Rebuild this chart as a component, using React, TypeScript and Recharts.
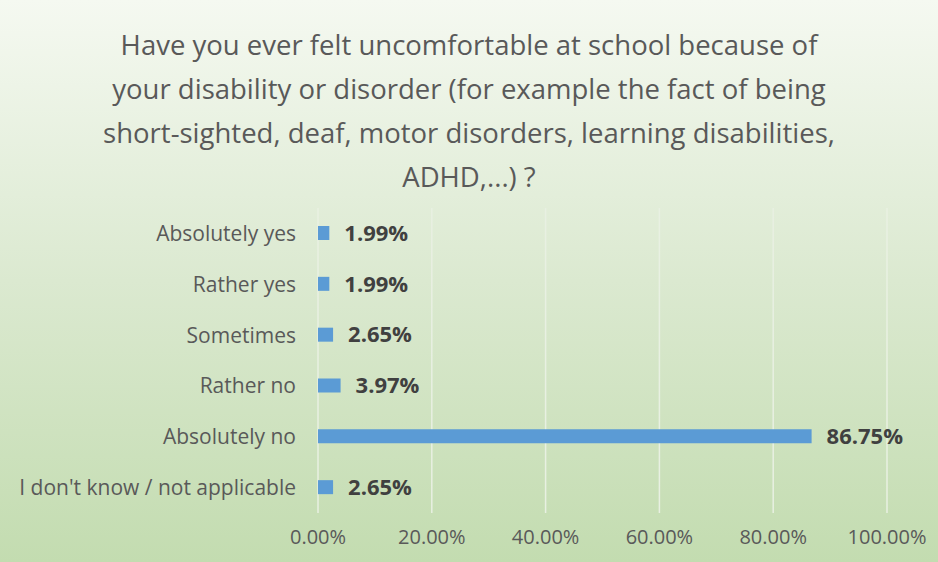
import { BarChart, Bar, XAxis, YAxis, CartesianGrid, LabelList } from 'recharts';

const categories = [
  'Absolutely yes',
  'Rather yes',
  'Sometimes',
  'Rather no',
  'Absolutely no',
  "I don't know / not applicable",
];
const shares = [1.99, 1.99, 2.65, 3.97, 86.75, 2.65];
const xTicks = [0, 20, 40, 60, 80, 100];
const titleLines = [
  'Have you ever felt uncomfortable at school because of',
  'your disability or disorder (for example the fact of being',
  'short-sighted, deaf, motor disorders, learning disabilities,',
  'ADHD,...) ?',
];

const data = categories.map((name, i) => ({ name, value: shares[i] }));

const FONT = '"Open Sans", sans-serif';
const pct = (v: number) => `${Number(v).toFixed(2)}%`;

const App = () => {
  return (
    <div
      style={{
        position: 'absolute',
        left: 0,
        top: 0,
        width: 938,
        height: 562,
        background: 'linear-gradient(to bottom, #f5f9f1 0%, #dbe9d0 50%, #c3dcb0 100%)',
        fontFamily: FONT,
      }}
    >
      <div
        style={{
          position: 'absolute',
          top: 23,
          left: 0,
          width: 938,
          textAlign: 'center',
          color: '#595959',
          fontSize: 27.5,
          lineHeight: '44px',
        }}
      >
        {titleLines.map((l) => (
          <div key={l}>{l}</div>
        ))}
      </div>
      <div style={{ position: 'absolute', left: 0, top: 0 }}>
        <BarChart
          width={938}
          height={562}
          data={data}
          layout="vertical"
          margin={{ top: 208, right: 51, bottom: 19, left: 0 }}
        >
          <CartesianGrid horizontal={false} stroke="#e8f0e2" strokeWidth={1.5} />
          <XAxis
            type="number"
            domain={[0, 100]}
            ticks={xTicks}
            tickFormatter={pct}
            axisLine={false}
            tickLine={false}
            tickSize={0}
            tickMargin={17}
            height={30}
            interval={0}
            tick={{ fill: '#595959', fontSize: 20, fontFamily: FONT }}
          />
          <YAxis
            type="category"
            dataKey="name"
            width={318}
            axisLine={false}
            tickLine={false}
            tickSize={0}
            tickMargin={22}
            interval={0}
            tick={{ fill: '#595959', fontSize: 21, fontFamily: FONT }}
          />
          <Bar dataKey="value" fill="#5b9bd5" barSize={14} isAnimationActive={false}>
            <LabelList
              dataKey="value"
              position="right"
              offset={15}
              formatter={(v: any) => pct(v)}
              style={{ fill: '#404040', fontSize: 22, fontWeight: 700, fontFamily: FONT }}
            />
          </Bar>
        </BarChart>
      </div>
    </div>
  );
};

export default App;
